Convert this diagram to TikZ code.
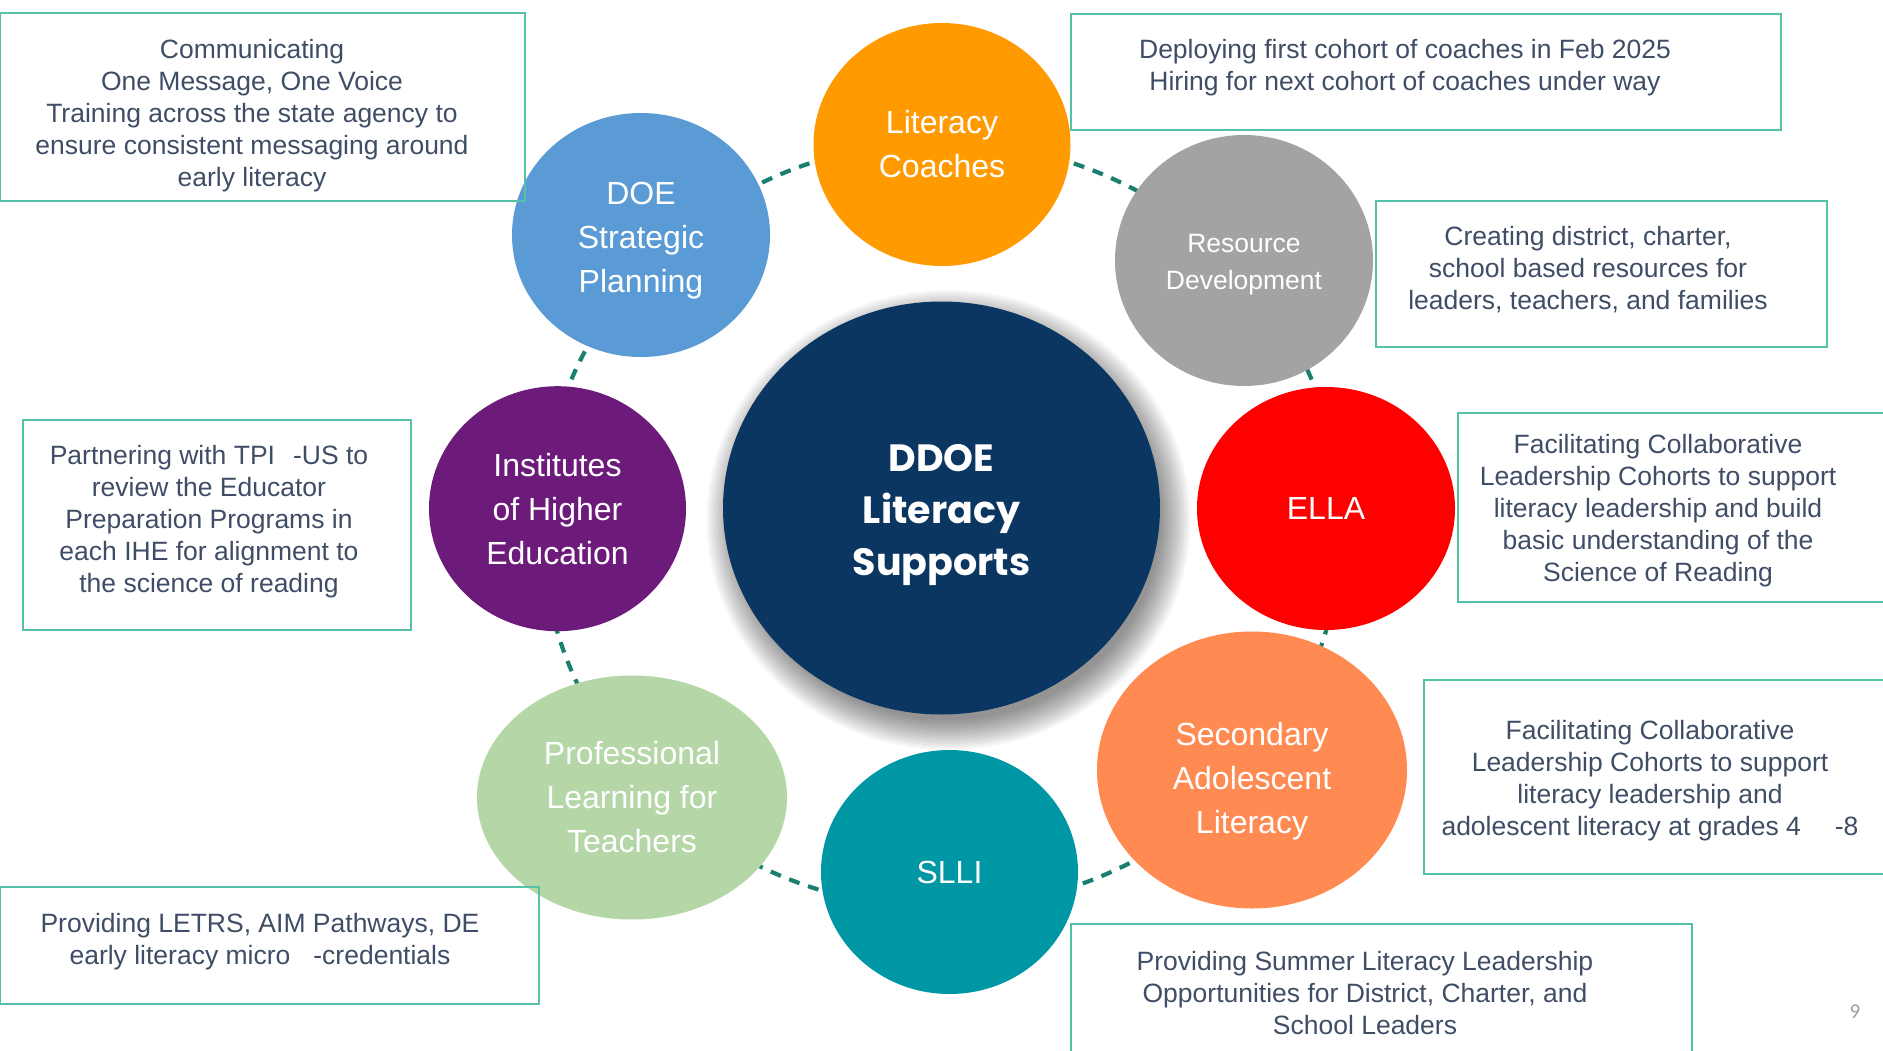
\documentclass[tikz,border=0pt]{standalone}
\usepackage{fontspec}
\setmainfont{Liberation Sans}
\newfontfamily\hubfont{Poppins}
\newfontfamily\pagefont{Carlito}
\usetikzlibrary{shapes.geometric}
\definecolor{hubc}{HTML}{0A3661}
\definecolor{coachc}{HTML}{FF9A00}
\definecolor{doec}{HTML}{5B9BD5}
\definecolor{resc}{HTML}{A3A3A3}
\definecolor{ellac}{HTML}{FF0000}
\definecolor{secc}{HTML}{FF8A52}
\definecolor{sllic}{HTML}{0097A5}
\definecolor{profc}{HTML}{B5D7A8}
\definecolor{ihec}{HTML}{6D1B7B}
\definecolor{boxc}{HTML}{55C1A6}
\definecolor{txtc}{HTML}{3F4D66}
\definecolor{ringc}{HTML}{1B7F70}
\newcommand{\lowered}[2]{\raisebox{-#1}[\height][\depth]{\begin{tabular}{@{}c@{}}#2\end{tabular}}}
\pgfdeclarelayer{bg}
\pgfsetlayers{bg,main}
\begin{document}
\begin{tikzpicture}[x=1pt,y=-1pt,
  bubble/.style={ellipse, inner sep=0pt, text=white, align=center,
    font=\fontsize{32}{44}\selectfont},
  infobox/.style={draw=boxc, line width=2pt, inner sep=0pt},
  infotext/.style={text=txtc, align=center, inner sep=0pt,
    font=\fontsize{26.5}{32}\selectfont},
  ringline/.style={draw=ringc, line width=4.2pt, dash pattern=on 11pt off 9pt}]
\useasboundingbox (0,0) rectangle (1883,1050);

% hub
\node[ellipse, fill=hubc, minimum width=437pt, minimum height=413pt, inner sep=0pt,
  text=white, align=center, font=\hubfont\bfseries\fontsize{38}{52}\selectfont]
  (hub) at (941.5,508) {\lowered{5.5pt}{DDOE\\Literacy\\Supports}};

% satellites
\node[bubble, fill=coachc, minimum width=257pt, minimum height=243pt] (coach) at (942,144.5) {Literacy\\Coaches};
\node[bubble, fill=doec, minimum width=258pt, minimum height=244pt] (doe) at (641,235) {\lowered{5pt}{DOE\\Strategic\\Planning}};
\node[bubble, fill=resc, minimum width=258pt, minimum height=251pt,
  font=\fontsize{26.5}{37}\selectfont] (res) at (1244,260.5) {\lowered{3.5pt}{Resource\\Development}};
\node[bubble, fill=ellac, minimum width=258pt, minimum height=243pt] (ella) at (1326,508.5) {ELLA};
\node[bubble, fill=secc, minimum width=310pt, minimum height=277pt] (sec) at (1252,770) {\lowered{11pt}{Secondary\\Adolescent\\Literacy}};
\node[bubble, fill=sllic, minimum width=257pt, minimum height=244pt] (slli) at (949.5,872) {SLLI};
\node[bubble, fill=profc, minimum width=310pt, minimum height=244pt] (prof) at (632,797.5) {Professional\\Learning for\\Teachers};
\node[bubble, fill=ihec, minimum width=257pt, minimum height=245pt] (ihe) at (557.5,508.7) {Institutes\\of Higher\\Education};

% background: white page, soft shadow of the hub, dashed ring behind the bubbles
\begin{pgfonlayer}{bg}
\fill[white] (0,0) rectangle (1883,1050);
\foreach \k in {0,...,15}
  \fill[black, opacity=0.032] ([xshift=7pt,yshift=-12pt]hub.center)
    ellipse [x radius=212+2*\k, y radius=200+2*\k];
\draw[ringline] ([yshift=-17pt]hub.center) ellipse [x radius=400, y radius=383];
\end{pgfonlayer}

% info boxes
\node[infobox, minimum width=525pt, minimum height=187.5pt] (boxA) at (262.5,106.75) {};
\node[infotext] (txtA) at (252,115.5) {Communicating\\ One Message, One Voice\\Training across the state agency to\\ensure consistent messaging around\\early literacy};

\node[infobox, minimum width=710pt, minimum height=116pt] (boxB) at (1426,72) {};
\node[infotext] (txtB) at (1405,67.5) {Deploying first cohort of coaches in Feb 2025\\Hiring for next cohort of coaches under way};

\node[infobox, minimum width=451pt, minimum height=146.5pt] (boxC) at (1601.5,273.75) {};
\node[infotext] (txtC) at (1588,269.5) {Creating district, charter,\\school based resources for\\leaders, teachers, and families};

\node[infobox, minimum width=432pt, minimum height=189pt] (boxD) at (1674,507.5) {};
\node[infotext] (txtD) at (1658,511) {Facilitating Collaborative\\Leadership Cohorts to support\\literacy leadership and build\\basic understanding of the\\Science of Reading};

\node[infobox, minimum width=466pt, minimum height=194pt] (boxE) at (1657,777) {};
\node[infotext] (txtE) at (1650,780.5) {Facilitating Collaborative\\Leadership Cohorts to support\\literacy leadership and\\adolescent literacy at grades 4\hspace{34pt}-8};

\node[infobox, minimum width=621pt, minimum height=136.5pt] (boxF) at (1381.5,991.75) {};
\node[infotext] (txtF) at (1365,992.7) {Providing Summer Literacy Leadership\\Opportunities for District, Charter, and\\School Leaders};

\node[infobox, minimum width=539pt, minimum height=117pt] (boxG) at (269.5,945.5) {};
\node[infotext] (txtG) at (260,941.4) {Providing LETRS, AIM Pathways, DE\\early literacy micro\hspace{23pt}-credentials};

\node[infobox, minimum width=388pt, minimum height=210pt] (boxH) at (216.75,525) {};
\node[infotext] (txtH) at (209,522) {Partnering with TPI\hspace{18pt}-US to\\review the Educator\\Preparation Programs in\\each IHE for alignment to\\the science of reading};

\node[text=black!38, font=\pagefont\fontsize{21}{24}\selectfont, inner sep=0pt] (pg) at (1855,1012) {9};
\end{tikzpicture}
\end{document}
